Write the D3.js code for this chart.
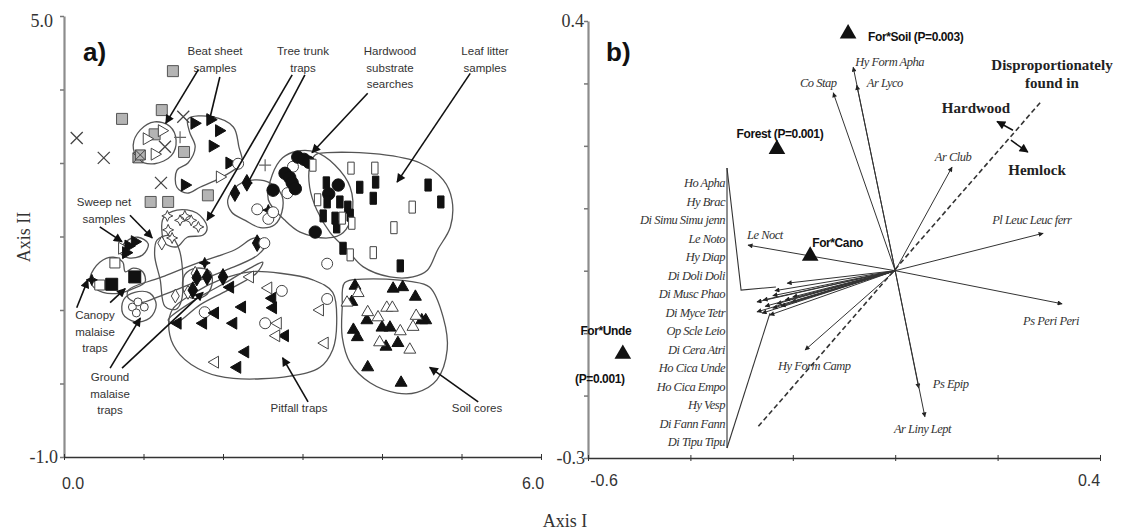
<!DOCTYPE html>
<html>
<head>
<meta charset="utf-8">
<script src="https://cdn.jsdelivr.net/npm/d3@7"></script>
<style>
  body { margin: 0; background: #fff; }
  svg { display: block; }
</style>
</head>
<body>
<div id="chart"></div>
<script>
// ---------- panel a data (axis I, axis II scores) ----------
const greySquares = [[1.37,4.25],[1.23,3.72],[0.73,3.60],[1.14,3.39],[1.51,3.15],[1.81,2.56],[1.09,2.47],[1.31,2.47]];
const crossedSquares = [[0.93,3.07],[0.96,3.11]];
const xMarks = [[0.16,3.34],[0.50,3.07],[1.50,3.63],[1.22,2.73],[1.27,3.22]];
const plusMarks = [[1.46,3.35],[2.53,2.97]];
const openRight = [[1.23,3.44],[1.04,3.33],[1.14,3.12],[1.96,2.81],[0.73,1.84]];
const filledRight = [[1.64,3.54],[1.84,3.59],[1.95,3.44],[1.87,3.23],[2.08,3.00],[1.52,2.70],[0.89,1.93],[0.81,1.87],[0.78,1.78]];
const openStars = [[1.30,2.28],[1.46,2.22],[1.60,2.22],[1.69,2.13],[1.31,2.09],[1.36,1.98],[1.52,2.28]];
const openSquares = [[0.64,1.64],[0.45,1.34]];
const filledSquares = [[0.89,1.45],[0.60,1.35]];
const filledStars = [[0.35,1.41],[1.77,1.64],[2.57,2.36]];
const cloverCircles = [[0.86,1.04],[0.93,1.11],[1.01,1.04],[0.91,0.96]];
const openDiamonds = [[1.23,1.91],[1.40,1.19],[1.65,1.50],[1.56,1.24]];
const filledDiamonds = [[1.67,1.44],[1.80,1.45],[2.00,1.45],[1.62,1.27],[2.43,1.91],[2.15,2.59],[2.30,2.73]];
const openCircles = [[2.43,2.37],[2.57,2.24],[2.63,2.33],[2.19,2.99],[2.52,1.91],
  [2.74,1.26],[1.77,0.97],[2.53,0.82],[3.31,1.63],[3.31,1.15],[2.81,2.59],[2.88,2.95]];
const filledLeft = [[2.09,1.31],[2.24,1.04],[2.62,1.16],[2.63,1.03],[1.90,0.96],[1.75,0.82],[2.13,0.82],
  [1.43,0.82],[2.28,0.43],[2.18,0.22],[2.78,0.65]];
const openLeft = [[2.34,1.45],[2.57,1.30],[2.69,0.82],[2.67,0.65],[3.28,0.55],[1.90,0.29],[3.22,1.00]];
const filledUp = [[3.66,1.33],[3.62,1.11],[3.81,0.86],[3.64,0.73],[3.69,0.63],[4.00,0.76],[4.10,0.76],[4.05,0.50],
  [4.20,0.55],[4.14,1.29],[4.26,1.31],[4.42,1.18],[4.50,0.86],[4.55,0.86],[3.82,0.22],[4.24,0.01]];
const openUp = [[3.70,1.23],[3.82,0.97],[3.95,0.90],[4.06,1.03],[4.13,1.03],[4.23,0.71],[3.97,0.56],[4.35,0.46],
  [4.43,0.92],[4.39,0.77],[3.56,1.10]];
const filledCircles = [[2.94,3.08],[3.02,3.05],[3.08,3.01],[2.78,2.86],[2.84,2.80],[2.87,2.73],[2.91,2.65],
  [2.63,2.63],[3.45,2.70],[3.33,2.58],[3.16,2.06]];
const filledRects = [[3.30,2.73],[3.72,2.67],[3.92,2.74],[3.89,2.52],[3.31,2.47],[3.47,2.47],[3.57,2.40],[3.60,2.29],
  [3.26,2.28],[3.41,2.25],[3.43,2.13],[3.51,1.84],[4.58,2.70],[4.74,2.47],[4.23,1.60]];
const openRects = [[3.13,2.97],[3.61,2.93],[3.91,2.93],[3.19,2.50],[3.50,2.25],[3.62,2.18],[4.38,2.40],[4.15,2.12],
  [3.60,1.75],[3.89,1.78]];

// group outlines (axis I, axis II)
const hulls = [
  [[0.96,3.45],[1.14,3.56],[1.33,3.50],[1.41,3.31],[1.35,3.10],[1.14,2.99],[0.94,3.04],[0.87,3.24]],
  [[1.56,3.60],[1.86,3.63],[2.13,3.49],[2.20,3.22],[2.24,3.00],[2.13,2.90],[1.92,2.77],[1.71,2.67],[1.55,2.59],[1.42,2.67],[1.42,2.90],[1.56,3.00],[1.65,3.22],[1.58,3.42]],
  [[2.06,2.50],[2.19,2.70],[2.40,2.77],[2.59,2.73],[2.74,2.56],[2.74,2.33],[2.65,2.16],[2.47,2.12],[2.28,2.22],[2.11,2.33]],
  [[1.25,2.25],[1.42,2.36],[1.67,2.32],[1.80,2.13],[1.75,2.02],[1.55,1.99],[1.42,1.86],[1.27,1.91],[1.23,2.09]],
  [[0.70,1.79],[0.79,1.94],[0.93,1.99],[1.06,1.90],[0.99,1.75],[0.81,1.71]],
  [[0.33,1.45],[0.45,1.65],[0.62,1.72],[0.74,1.65],[0.77,1.52],[0.87,1.57],[0.99,1.52],[1.02,1.38],[0.87,1.29],[0.70,1.23],[0.49,1.24],[0.35,1.34]],
  [[0.75,1.14],[0.89,1.24],[1.08,1.23],[1.16,1.07],[1.08,0.89],[0.89,0.84],[0.74,0.95]],
  [[1.17,1.95],[1.33,2.01],[1.45,1.82],[1.48,1.14],[1.41,1.01],[1.27,1.05],[1.21,1.41],[1.14,1.75]],
  [[0.81,1.27],[1.21,1.44],[1.71,1.65],[2.15,1.82],[2.40,1.98],[2.54,1.91],[2.44,1.75],[2.03,1.54],[1.65,1.38],[1.21,1.19],[0.96,1.10],[0.81,1.16]],
  [[1.31,0.86],[1.65,1.14],[2.03,1.37],[2.34,1.57],[2.50,1.65],[2.42,1.50],[2.06,1.27],[1.71,1.07],[1.40,0.82]],
  [[1.52,1.48],[1.67,1.57],[1.84,1.52],[1.86,1.34],[1.77,1.19],[1.61,1.16],[1.50,1.27]],
  [[1.36,1.00],[1.65,1.24],[1.96,1.41],[2.34,1.52],[2.72,1.50],[3.13,1.41],[3.38,1.24],[3.43,0.82],[3.38,0.46],[3.22,0.22],[2.84,0.10],[2.13,0.07],[1.77,0.16],[1.46,0.39],[1.33,0.66]],
  [[3.53,1.37],[3.76,1.42],[4.35,1.39],[4.60,1.31],[4.77,0.90],[4.82,0.46],[4.69,0.05],[4.44,-0.12],[4.19,-0.13],[3.85,0.01],[3.60,0.28],[3.50,0.63],[3.50,1.04]],
  [[2.62,2.84],[2.75,3.07],[2.93,3.16],[3.16,3.15],[3.41,2.97],[3.60,2.67],[3.62,2.29],[3.51,2.05],[3.32,1.98],[2.97,2.06],[2.78,2.22],[2.57,2.50]],
  [[3.09,2.95],[3.16,3.11],[3.31,3.14],[3.97,3.12],[4.48,3.00],[4.77,2.77],[4.88,2.50],[4.86,2.13],[4.70,1.82],[4.57,1.54],[4.39,1.45],[4.10,1.45],[3.76,1.59],[3.56,1.82],[3.35,2.05],[3.18,2.36],[3.09,2.67]]
];

// sampling-method callouts: label lines, pointer arrows [from, to]
const callouts = [
  { lines: ["Beat sheet","samples"], at: [215,55], arrows: [[[1.69,4.27],[1.28,3.54]],[[1.96,4.17],[1.82,3.54]]] },
  { lines: ["Tree trunk","traps"], at: [303,55], arrows: [[[2.87,4.20],[1.80,2.22]],[[3.03,4.20],[2.28,2.66]]] },
  { lines: ["Hardwood","substrate","searches"], at: [390,55], arrows: [[[3.82,3.95],[3.12,3.14]]] },
  { lines: ["Leaf litter","samples"], at: [485,55], arrows: [[[5.11,4.22],[4.19,2.74]]] },
  { lines: ["Sweep net","samples"], at: [104,206], arrows: [[[0.45,2.13],[0.73,1.93]],[[0.83,2.29],[1.11,1.98]]] },
  { lines: ["Canopy","malaise","traps"], at: [95,319], arrows: [[[0.16,1.03],[0.30,1.41]],[[0.58,1.10],[0.77,1.29]]] },
  { lines: ["Ground","malaise","traps"], at: [110,381], arrows: [[[0.58,0.21],[0.96,0.89]],[[0.73,0.21],[1.75,1.24]]] },
  { lines: ["Pitfall traps"], at: [299,412], arrows: [[[3.07,-0.25],[2.75,0.35]]] },
  { lines: ["Soil cores"], at: [477,412], arrows: [[[5.21,-0.25],[4.60,0.22]]] }
];

// ---------- panel b data (CCA biplot) ----------
const envNames = ["For*Soil (P=0.003)", "Forest (P=0.001)", "For*Cano", "For*Unde"];
const envAxis1 = [-0.092, -0.231, -0.166, -0.532];
const envAxis2 = [0.378, 0.193, 0.022, -0.135];

const sppNames = ["Co Stap","Hy Form Apha","Ar Lyco","Ar Club","Pl Leuc Leuc ferr","Ps Peri Peri","Ps Epip","Ar Liny Lept","Hy Form Camp","Le Noct"];
const sppAxis1 = [-0.121, -0.082, -0.075, 0.111, 0.289, 0.326, 0.046, 0.058, -0.176, -0.2875];
const sppAxis2 = [0.285, 0.326, 0.297, 0.166, 0.060, -0.053, -0.188, -0.234, -0.127, 0.041];

const groupNames = ["Ho Apha","Hy Brac","Di Simu Simu jenn","Le Noto","Hy Diap","Di Doli Doli","Di Musc Phao","Di Myce Tetr",
  "Op Scle Leio","Di Cera Atri","Ho Cica Unde","Ho Cica Empo","Hy Vesp","Di Fann Fann","Di Tipu Tipu"];
const groupAxis1 = [-0.211,-0.235,-0.258,-0.270,-0.239,-0.200,-0.202,-0.270,-0.260,-0.239,-0.223,-0.245,-0.231,-0.254,-0.215];
const groupAxis2 = [-0.020,-0.032,-0.047,-0.050,-0.040,-0.042,-0.050,-0.066,-0.068,-0.060,-0.057,-0.071,-0.053,-0.057,-0.047];

const dashedDivide = [[0.283,0.269],[-0.268,-0.250]];
const bracketTop = [[-0.3285,0.1645],[-0.301,-0.031],[-0.233,-0.026]];
const bracketBottom = [[-0.3285,-0.284],[-0.2445,-0.068]];
const bracketSide = [[-0.3285,0.1645],[-0.3285,-0.284]];

// label placement for species arrows: [dx, dy, anchor]
const sppLabelPos = {
  "Co Stap": [-15,-6,"middle"], "Hy Form Apha": [2,-1,"start"], "Ar Lyco": [10,2,"start"],
  "Ar Club": [1,-6,"middle"], "Pl Leuc Leuc ferr": [-51,-9,"start"], "Ps Peri Peri": [-39,21,"start"],
  "Ps Epip": [14,0,"start"], "Ar Liny Lept": [-31,16,"start"], "Hy Form Camp": [-27,20,"start"], "Le Noct": [-1,-6,"start"]
};

// ---------- svg ----------
let svgWidth = 1125;
let svgHeight = 532;

var svg = d3.select("#chart")
  .append("svg")
  .attr("width", svgWidth)
  .attr("height", svgHeight)
  .style("background", "#fff");

var defs = svg.append("defs");
defs.append("marker").attr("id", "headA")
  .attr("viewBox", "0 0 10 10").attr("refX", 9).attr("refY", 5)
  .attr("markerWidth", 11).attr("markerHeight", 9)
  .attr("markerUnits", "userSpaceOnUse").attr("orient", "auto")
  .append("path").attr("d", "M0,0L10,5L0,10z").attr("fill", "#111");
defs.append("marker").attr("id", "headB")
  .attr("viewBox", "0 0 10 10").attr("refX", 9).attr("refY", 5)
  .attr("markerWidth", 7).attr("markerHeight", 5)
  .attr("markerUnits", "userSpaceOnUse").attr("orient", "auto")
  .append("path").attr("d", "M0,0L10,5L0,10z").attr("fill", "#222");

// scales
var xA = d3.scaleLinear().domain([0, 6]).range([64, 541]);
var yA = d3.scaleLinear().domain([-1, 5]).range([457, 16]);
var xB = d3.scaleLinear().domain([-0.6, 0.4]).range([588, 1100]);
var yB = d3.scaleLinear().domain([-0.3, 0.4]).range([458, 21]);

const serif = "'Liberation Serif', 'Times New Roman', serif";
const sans = "'Liberation Sans', Arial, sans-serif";

// ---------- panel a ----------
var gA = svg.append("g");

// group outlines
var hullLine = d3.line().x(d => xA(d[0])).y(d => yA(d[1])).curve(d3.curveCatmullRomClosed.alpha(0.5));
gA.selectAll("path.hull").data(hulls).enter().append("path")
  .attr("class", "hull")
  .attr("d", hullLine)
  .attr("fill", "none")
  .attr("stroke", "#555")
  .attr("stroke-width", 1.3);

function drawMarks(data, shape, fill, stroke, rot, sw) {
  gA.selectAll(null).data(data).enter().append("path")
    .attr("d", shape)
    .attr("transform", d => `translate(${xA(d[0])},${yA(d[1])}) rotate(${rot || 0})`)
    .attr("fill", fill)
    .attr("stroke", stroke)
    .attr("stroke-width", sw || 1);
}

const tri = d3.symbol(d3.symbolTriangle, 62)();
const starPath = "M0,-5.5L1.7,-1.7L5.5,0L1.7,1.7L0,5.5L-1.7,1.7L-5.5,0L-1.7,-1.7Z";

drawMarks(greySquares, "M-5.5,-5.5h11v11h-11z", "#b4b4b4", "#555", 0, 1);
drawMarks(crossedSquares, "M-5,-5h10v10h-10zM-5,-5L5,5M-5,5L5,-5", "#b4b4b4", "#444", 0, 1);
drawMarks(xMarks, "M-6,-6L6,6M-6,6L6,-6", "none", "#444", 0, 1.3);
drawMarks(plusMarks, "M-6,0L6,0M0,-6L0,6", "none", "#666", 0, 1.2);
drawMarks(openRight, tri, "#fff", "#444", 90, 1);
drawMarks(filledRight, tri, "#111", "#111", 90, 1);
drawMarks(openStars, starPath, "#fff", "#444", 0, 1);
drawMarks(openSquares, "M-5,-5h10v10h-10z", "#fff", "#444", 0, 1);
drawMarks(filledSquares, "M-6,-6h12v12h-12z", "#111", "#111", 0, 1);
drawMarks(filledStars, starPath, "#111", "#111", 0, 1);
drawMarks(cloverCircles, d3.symbol(d3.symbolCircle, 50)(), "#fff", "#444", 0, 1);
drawMarks(openDiamonds, d3.symbol(d3.symbolDiamond, 55)(), "#fff", "#444", 0, 1);
drawMarks(filledDiamonds, d3.symbol(d3.symbolDiamond, 80)(), "#111", "#111", 0, 1);
drawMarks(openCircles, d3.symbol(d3.symbolCircle, 95)(), "#fff", "#444", 0, 1);
drawMarks(filledLeft, tri, "#111", "#111", -90, 1);
drawMarks(openLeft, tri, "#fff", "#444", -90, 1);
drawMarks(filledUp, tri, "#111", "#111", 0, 1);
drawMarks(openUp, tri, "#fff", "#444", 0, 1);
drawMarks(filledCircles, d3.symbol(d3.symbolCircle, 120)(), "#111", "#111", 0, 1);
drawMarks(filledRects, "M-3.2,-6h6.4v12h-6.4z", "#111", "#111", 0, 1);
drawMarks(openRects, "M-3.2,-6h6.4v12h-6.4z", "#fff", "#444", 0, 1);

// callouts
callouts.forEach(function(c) {
  c.lines.forEach(function(t, i) {
    gA.append("text")
      .attr("x", c.at[0])
      .attr("y", c.at[1] + i * 16.5)
      .attr("text-anchor", "middle")
      .attr("font-family", sans)
      .attr("font-size", "11.5px")
      .attr("fill", "#333")
      .text(t);
  });
  c.arrows.forEach(function(a) {
    gA.append("line")
      .attr("x1", xA(a[0][0])).attr("y1", yA(a[0][1]))
      .attr("x2", xA(a[1][0])).attr("y2", yA(a[1][1]))
      .attr("stroke", "#111")
      .attr("stroke-width", 1.6)
      .attr("marker-end", "url(#headA)");
  });
});

// axes a
gA.append("g")
  .attr("transform", `translate(${xA(0)},0)`)
  .call(d3.axisLeft(yA).tickValues(d3.range(-1, 6)).tickSize(4).tickSizeOuter(0).tickFormat(""))
  .call(g => {
    g.select(".domain").attr("stroke", "#8c8c8c").attr("stroke-width", 2.2);
    g.selectAll(".tick line").attr("stroke", "#777").attr("stroke-width", 1.5);
  });

gA.append("g")
  .attr("transform", `translate(0,${yA(-1)})`)
  .call(d3.axisBottom(xA).tickValues(d3.range(0, 7)).tickSize(3).tickSizeOuter(0).tickFormat(""))
  .call(g => {
    g.select(".domain").attr("stroke", "#333").attr("stroke-width", 1.3);
    g.selectAll(".tick line").attr("y1", -3).attr("stroke", "#333");
  });

gA.append("text").attr("x", 53).attr("y", 27).attr("text-anchor", "end")
  .attr("font-family", serif).attr("font-size", "18px").attr("fill", "#333").text("5.0");
gA.append("text").attr("x", 58).attr("y", 463).attr("text-anchor", "end")
  .attr("font-family", serif).attr("font-size", "18px").attr("fill", "#333").text("-1.0");
gA.append("text").attr("x", xA(0) + 9).attr("y", 489).attr("text-anchor", "middle")
  .attr("font-family", sans).attr("font-size", "16px").attr("fill", "#333").text("0.0");
gA.append("text").attr("x", xA(6) - 8).attr("y", 489).attr("text-anchor", "middle")
  .attr("font-family", sans).attr("font-size", "16px").attr("fill", "#333").text("6.0");
gA.append("text")
  .attr("transform", "translate(30,237) rotate(-90)")
  .attr("text-anchor", "middle")
  .attr("font-family", serif).attr("font-size", "18px").attr("fill", "#333")
  .text("Axis II");
gA.append("text").attr("x", 83).attr("y", 61)
  .attr("font-family", sans).attr("font-weight", "bold").attr("font-size", "26px").attr("fill", "#111")
  .text("a)");

// ---------- panel b ----------
var gB = svg.append("g");

// axes b
gB.append("g")
  .attr("transform", `translate(${xB(-0.6)},0)`)
  .call(d3.axisLeft(yB).tickValues(d3.range(-3, 5).map(d => d / 10)).tickSize(4).tickSizeOuter(0).tickFormat(""))
  .call(g => {
    g.select(".domain").attr("stroke", "#8c8c8c").attr("stroke-width", 2.2);
    g.selectAll(".tick line").attr("stroke", "#777").attr("stroke-width", 1.5);
  });

gB.append("g")
  .attr("transform", `translate(0,${yB(-0.3)})`)
  .call(d3.axisBottom(xB).tickValues([-0.6, -0.4, -0.2, 0, 0.2, 0.4]).tickSize(3).tickSizeOuter(0).tickFormat(""))
  .call(g => {
    g.select(".domain").attr("stroke", "#333").attr("stroke-width", 1.3);
    g.selectAll(".tick line").attr("y1", -3).attr("stroke", "#333");
  });

gB.append("text").attr("x", 584).attr("y", 27).attr("text-anchor", "end")
  .attr("font-family", serif).attr("font-size", "18px").attr("fill", "#333").text("0.4");
gB.append("text").attr("x", 585).attr("y", 464).attr("text-anchor", "end")
  .attr("font-family", serif).attr("font-size", "18px").attr("fill", "#333").text("-0.3");
gB.append("text").attr("x", xB(-0.6) + 16).attr("y", 486).attr("text-anchor", "middle")
  .attr("font-family", sans).attr("font-size", "16px").attr("fill", "#333").text("-0.6");
gB.append("text").attr("x", xB(0.4) - 11).attr("y", 486).attr("text-anchor", "middle")
  .attr("font-family", sans).attr("font-size", "16px").attr("fill", "#333").text("0.4");
svg.append("text").attr("x", 565).attr("y", 527).attr("text-anchor", "middle")
  .attr("font-family", serif).attr("font-size", "18px").attr("fill", "#333").text("Axis I");
gB.append("text").attr("x", 606).attr("y", 61)
  .attr("font-family", sans).attr("font-weight", "bold").attr("font-size", "26px").attr("fill", "#111")
  .text("b)");

// dashed hardwood / hemlock divide
var bLine = d3.line().x(d => xB(d[0])).y(d => yB(d[1]));
gB.append("path").attr("d", bLine(dashedDivide))
  .attr("fill", "none").attr("stroke", "#333").attr("stroke-width", 1.6).attr("stroke-dasharray", "5,3");

// bracket joining grouped species to their arrows
[bracketTop, bracketBottom, bracketSide].forEach(function(b) {
  gB.append("path").attr("d", bLine(b))
    .attr("fill", "none").attr("stroke", "#333").attr("stroke-width", 1.1);
});

// species arrows
function drawArrow(v1, v2) {
  gB.append("line")
    .attr("x1", xB(0)).attr("y1", yB(0))
    .attr("x2", xB(v1)).attr("y2", yB(v2))
    .attr("stroke", "#333").attr("stroke-width", 1)
    .attr("marker-end", "url(#headB)");
}
groupAxis1.forEach((v, i) => drawArrow(v, groupAxis2[i]));
sppAxis1.forEach((v, i) => drawArrow(v, sppAxis2[i]));

sppNames.forEach(function(n, i) {
  var p = sppLabelPos[n];
  gB.append("text")
    .attr("x", xB(sppAxis1[i]) + p[0])
    .attr("y", yB(sppAxis2[i]) + p[1])
    .attr("text-anchor", p[2])
    .attr("font-family", serif).attr("font-style", "italic").attr("font-size", "12.5px")
    .attr("letter-spacing", "-0.5px").attr("fill", "#333")
    .text(n);
});

// grouped species names listed beside the bracket
var listX = xB(bracketSide[0][0]) - 2;
gB.selectAll("text.grp").data(groupNames).enter().append("text")
  .attr("class", "grp")
  .attr("x", listX)
  .attr("y", (d, i) => 187 + i * 18.5)
  .attr("text-anchor", "end")
  .attr("font-family", serif).attr("font-style", "italic").attr("font-size", "12.5px")
  .attr("letter-spacing", "-0.5px").attr("fill", "#333")
  .text(d => d);

// environmental centroids
gB.selectAll("path.env").data(envNames).enter().append("path")
  .attr("class", "env")
  .attr("d", d3.symbol(d3.symbolTriangle, 120)())
  .attr("transform", (d, i) => `translate(${xB(envAxis1[i])},${yB(envAxis2[i]) - 1})`)
  .attr("fill", "#111");

const envLabelPos = [[[20, 6, "start", "For*Soil (P=0.003)"]], [[3, -12, "middle", "Forest (P=0.001)"]],
  [[2, -10, "start", "For*Cano"]], [[-17, -20, "middle", "For*Unde"], [-23, 28, "middle", "(P=0.001)"]]];
envLabelPos.forEach(function(list, i) {
  list.forEach(function(p) {
    gB.append("text")
      .attr("x", xB(envAxis1[i]) + p[0])
      .attr("y", yB(envAxis2[i]) + p[1])
      .attr("text-anchor", p[2])
      .attr("font-family", sans).attr("font-weight", "bold").attr("font-size", "12px")
      .attr("letter-spacing", "-0.4px").attr("fill", "#111")
      .text(p[3]);
  });
});

// habitat legend
const legendText = [["Disproportionately", 1052, 70], ["found in", 1052, 88], ["Hardwood", 976, 113], ["Hemlock", 1037, 175]];
legendText.forEach(function(t) {
  gB.append("text").attr("x", t[1]).attr("y", t[2]).attr("text-anchor", "middle")
    .attr("font-family", serif).attr("font-weight", "bold").attr("font-size", "15px").attr("fill", "#222")
    .text(t[0]);
});
const legendArrows = [[[0.230, 0.225], [0.199, 0.239]], [[0.226, 0.209], [0.259, 0.190]]];
legendArrows.forEach(function(a) {
  gB.append("line")
    .attr("x1", xB(a[0][0])).attr("y1", yB(a[0][1]))
    .attr("x2", xB(a[1][0])).attr("y2", yB(a[1][1]))
    .attr("stroke", "#111").attr("stroke-width", 1.5)
    .attr("marker-end", "url(#headA)");
});
</script>
</body>
</html>
